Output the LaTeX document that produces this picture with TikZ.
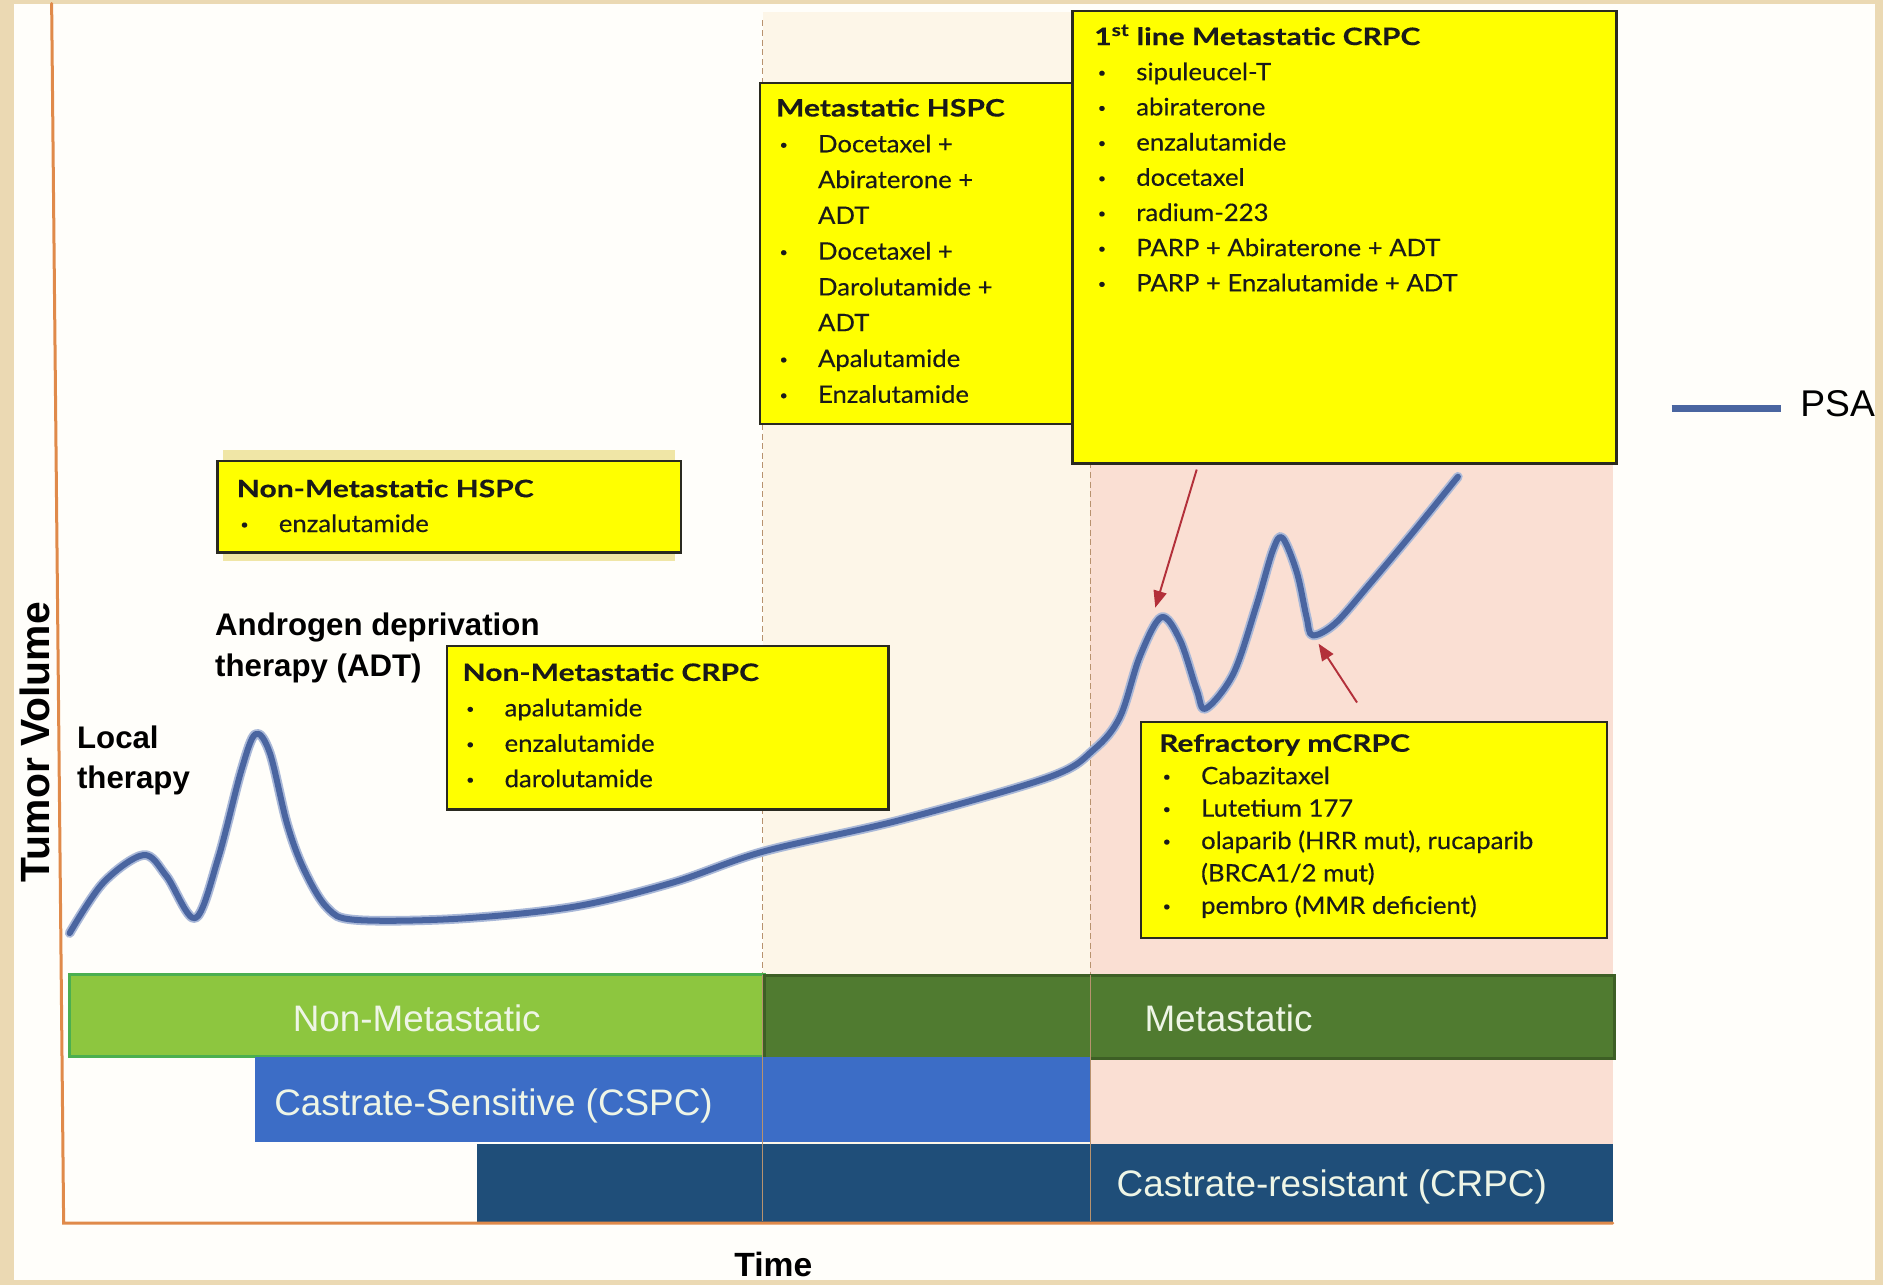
\documentclass[tikz,border=0pt]{standalone}
\usepackage{fontspec}
\usetikzlibrary{arrows.meta}
\setmainfont{Lato}
\newfontfamily\boxfont{Lato}[FakeStretch=1.07,FakeBold=0.35,BoldFeatures={FakeStretch=1.25,FakeBold=0.3}]
\newfontfamily\arial{Liberation Sans}
\definecolor{beige}{HTML}{EBD9B3}
\definecolor{inner}{HTML}{FFFEFA}
\definecolor{cream}{HTML}{FDF6E8}
\definecolor{pinkbg}{HTML}{FADFD3}
\definecolor{axisor}{HTML}{E08A4A}
\definecolor{ltgreen}{HTML}{8DC63F}
\definecolor{ltgreenb}{HTML}{4BAF50}
\definecolor{dkgreen}{HTML}{507B30}
\definecolor{dkgreenb}{HTML}{3D5F25}
\definecolor{midblue}{HTML}{3C6DC6}
\definecolor{navy}{HTML}{1F4E79}
\definecolor{psa}{HTML}{4A65A0}
\definecolor{psahalo}{HTML}{A9B8D8}
\definecolor{arrowred}{HTML}{B3303A}
\definecolor{boxyellow}{HTML}{FFFF00}
\definecolor{boxedge}{HTML}{2A2A20}
\definecolor{bandtext}{HTML}{EEF5E6}
\definecolor{dashc}{HTML}{B8926E}
\definecolor{halo}{HTML}{F0E6A6}
\definecolor{ink}{HTML}{1A1A1A}
\newcommand{\smallbullet}{\raisebox{2.5pt}{\fontsize{11}{11}\selectfont\textbullet}}
\newcommand{\bitem}[1]{\par\makebox[35pt][l]{\hspace{3pt}\smallbullet}#1}
\newcommand{\citem}[1]{\par\hspace*{35pt}#1}
\tikzset{
  ybox/.style={draw=boxedge, line width=2pt, fill=boxyellow, anchor=north west, inner sep=0pt},
  ytext/.style={anchor=base west, inner sep=0pt, text=ink},
  band/.style={anchor=north west, inner sep=0pt},
  bandlabel/.style={anchor=base, inner sep=0pt, text=bandtext, font=\arial\fontsize{30.7}{34}\selectfont},
  biglabel/.style={anchor=base west, inner sep=0pt, text=black, font=\arial\bfseries\fontsize{26}{34}\selectfont, align=left},
  redarrow/.style={draw=arrowred, line width=1.6pt, -{Triangle[length=14pt,width=11pt]}},
  divline/.style={dashc, line width=1pt, dash pattern=on 5pt off 3pt},
}
\begin{document}
\begin{tikzpicture}[x=1pt,y=-1pt]
\path[use as bounding box] (0,0) rectangle (1568,1070);
% frame
\fill[beige] (0,0) rectangle (1568,1070);
\fill[inner] (12,3) rectangle (1561,1066);
% shaded regions
\fill[cream] (635,10) rectangle (908,1018);
\fill[pinkbg] (908,10) rectangle (1343,1018);
% dividers
\draw[divline] (635,17) -- (635,812);
\draw[divline] (908,385) -- (908,812);
% bands
\node[band, fill=ltgreen, draw=ltgreenb, line width=2.5pt, minimum width=578pt, minimum height=68pt] (bNM) at (57,810.5) {};
\node[band, fill=dkgreen, draw=dkgreenb, line width=2.5pt, minimum width=708pt, minimum height=69pt] (bM) at (635,811) {};
\node[band, fill=midblue, minimum width=696pt, minimum height=71pt] (bCS) at (212,880) {};
\node[band, fill=navy, minimum width=946pt, minimum height=65pt] (bCR) at (397,952) {};
\draw[dashc, line width=0.8pt] (635,812) -- (635,1017);
\draw[dashc, line width=0.8pt] (908,812) -- (908,1017);
\node[bandlabel] (tNM) at (347,859) {Non-Metastatic};
\node[bandlabel] (tM) at (1023,859) {Metastatic};
\node[bandlabel] (tCS) at (411,929) {Castrate-Sensitive (CSPC)};
\node[bandlabel] (tCR) at (1109,996) {Castrate-resistant (CRPC)};
% axes
\coordinate (ytop) at (43,3);
\coordinate (orig) at (53,1018.5);
\coordinate (xend) at (1343,1018.5);
\draw[axisor, line width=2.5pt, line cap=round] (ytop) -- (orig) -- (xend);
% PSA curve
\draw[psahalo, line width=8pt, line cap=round, line join=round,
      postaction={draw=psa, line width=5pt}]
  plot[smooth, tension=0.55] coordinates {
  (58,777) (86,735) (119.5,712) (138.6,729.5) (162.5,764.6) (181.6,715) (200.8,642)
  (212.7,611.3) (224.7,627) (239,685.7) (253,723.8) (272.4,755.8) (296.3,766)
  (382,765) (478,755) (560,735) (636,709) (749,683) (874,647) (911,624) (932.6,597)
  (949,547) (967,514) (982.6,533) (996.5,574.5) (1004,590) (1027,561) (1046,505)
  (1060,458) (1068,448) (1080,477) (1088,514) (1093,529) (1112,519) (1140,487)
  (1176,444) (1214,397)};
% arrows
\coordinate (a1s) at (996.5,391);
\coordinate (a1e) at (962,506);
\coordinate (a2s) at (1130,585);
\coordinate (a2e) at (1098,536);
\draw[redarrow] (a1s) -- (a1e);
\draw[redarrow] (a2s) -- (a2e);
% box A halo
\fill[halo] (186,375) rectangle (562,467);
% boxes
\node[ybox, minimum width=261pt, minimum height=284pt] (boxC) at (632,68) {};
\node[ybox, minimum width=453pt, minimum height=377pt] (boxD) at (892,8) {};
\node[ybox, minimum width=386pt, minimum height=76pt] (boxA) at (180,383) {};
\node[ybox, minimum width=368pt, minimum height=136pt] (boxB) at (371,537) {};
\node[ybox, minimum width=388pt, minimum height=180pt] (boxE) at (949,600) {};
\node[ytext] (txtA) at (197,414) {\parbox[t]{360pt}{\boxfont\fontsize{20}{29}\selectfont
  {\bfseries Non-Metastatic HSPC}\bitem{enzalutamide}}};
\node[ytext] (txtB) at (385,567) {\parbox[t]{340pt}{\boxfont\fontsize{20}{29.5}\selectfont
  {\bfseries Non-Metastatic CRPC}\bitem{apalutamide}\bitem{enzalutamide}\bitem{darolutamide}}};
\node[ytext] (txtC) at (646,97) {\parbox[t]{240pt}{\boxfont\fontsize{20}{29.8}\selectfont
  {\bfseries Metastatic HSPC}\bitem{Docetaxel +}\citem{Abiraterone +}\citem{ADT}%
  \bitem{Docetaxel +}\citem{Darolutamide +}\citem{ADT}\bitem{Apalutamide}\bitem{Enzalutamide}}};
\node[ytext] (txtD) at (911,37.5) {\parbox[t]{420pt}{\boxfont\fontsize{20}{29.3}\selectfont
  {\bfseries 1\textsuperscript{st} line Metastatic CRPC}\bitem{sipuleucel-T}\bitem{abiraterone}%
  \bitem{enzalutamide}\bitem{docetaxel}\bitem{radium-223}\bitem{PARP + Abiraterone + ADT}%
  \bitem{PARP + Enzalutamide + ADT}}};
\node[ytext] (txtE) at (965,626) {\parbox[t]{360pt}{\boxfont\fontsize{20}{27}\selectfont
  {\bfseries Refractory mCRPC}\bitem{Cabazitaxel}\bitem{Lutetium 177}%
  \bitem{olaparib (HRR mut), rucaparib}\citem{(BRCA1/2 mut)}\bitem{pembro (MMR deficient)}}};
% labels
\node[biglabel] (lADT) at (179,563) {Androgen deprivation\\therapy (ADT)};
\node[biglabel] (lLocal) at (64,657) {Local\\therapy};
\node[anchor=base, inner sep=0pt, rotate=90, font=\arial\bfseries\fontsize{34}{36}\selectfont] (lTV) at (41,618) {Tumor Volume};
\node[anchor=base, inner sep=0pt, font=\arial\bfseries\fontsize{28}{32}\selectfont] (lTime) at (644,1063) {Time};
% legend
\coordinate (lg1) at (1392,340);
\coordinate (lg2) at (1483,340);
\draw[psa, line width=6pt] (lg1) -- (lg2);
\node[anchor=base west, inner sep=0pt, font=\arial\fontsize{31}{34}\selectfont] (lPSA) at (1499,347) {PSA};
\end{tikzpicture}
\end{document}
